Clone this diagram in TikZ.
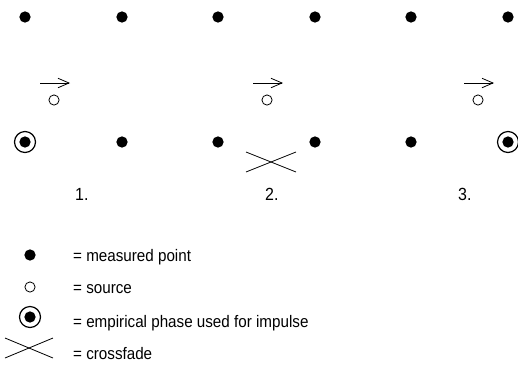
\documentclass[tikz,border=0pt]{standalone}
\usepackage{fontspec}
\setmainfont{Liberation Sans}
\usetikzlibrary{arrows.meta}
\newcommand{\tallt}[1]{\scalebox{1}[1.1]{#1}}
\begin{document}
\begin{tikzpicture}[x=1pt,y=-1pt,
  meas/.style={circle,fill=black,inner sep=0pt,minimum size=11.3pt},
  src/.style={circle,draw=black,line width=0.8pt,inner sep=0pt,minimum size=10.2pt},
  ringmark/.style={circle,draw=black,line width=1.2pt,inner sep=0pt,minimum size=21pt},
  dirarrow/.style={line width=0.8pt,-{Straight Barb[length=11pt,width=9.5pt,line width=0.8pt]}},
  xfade/.style={line width=0.8pt},
  lbl/.style={inner sep=0pt,anchor=base west,font=\fontsize{15.2}{18}\selectfont},
  num/.style={inner sep=0pt,anchor=base west,font=\fontsize{16}{19}\selectfont}]
\useasboundingbox (0,0) rectangle (518,365);
% top row
\foreach \i/\x in {1/25,2/122,3/218,4/315,5/411,6/508}
  \node[meas] (t\i) at (\x,17) {};
% bottom row
\foreach \i/\x in {1/25,2/122,3/218,4/315,5/411,6/508}
  \node[meas] (b\i) at (\x,142) {};
\node[ringmark] (r1) at (b1) {};
\node[ringmark] (r6) at (b6) {};
% sources and arrows
\foreach \i/\x in {1/54,2/267,3/478}{
  \coordinate (as\i) at (\x-14,83);
  \coordinate (ae\i) at (\x+16,83);
  \draw[dirarrow] (as\i) -- (ae\i);
  \node[src] (s\i) at (\x,100) {};
}
% crossfade in diagram
\coordinate (xa) at (246,152);
\coordinate (xb) at (296,172);
\coordinate (xc) at (246,172);
\coordinate (xd) at (296,152);
\draw[xfade] (xa) -- (xb);
\draw[xfade] (xc) -- (xd);
% numbers
\node[num] (n1) at (75,200) {\tallt{1.}};
\node[num] (n2) at (265,200) {\tallt{2.}};
\node[num] (n3) at (458,200) {\tallt{3.}};
% legend
\node[meas] (lm) at (30,255) {};
\node[src] (ls) at (30,287) {};
\node[meas] (lr) at (30,317) {};
\node[ringmark] (lrr) at (lr) {};
\coordinate (la) at (5,338);
\coordinate (lb) at (53,358);
\coordinate (lc) at (5,358);
\coordinate (ld) at (53,338);
\draw[xfade] (la) -- (lb);
\draw[xfade] (lc) -- (ld);
\node[lbl] (t1) at (73,261) {\tallt{= measured point}};
\node[lbl] (t2) at (73,293) {\tallt{= source}};
\node[lbl] (t3) at (73,327) {\tallt{= empirical phase used for impulse}};
\node[lbl] (t4) at (73,359) {\tallt{= crossfade}};
\end{tikzpicture}
\end{document}
